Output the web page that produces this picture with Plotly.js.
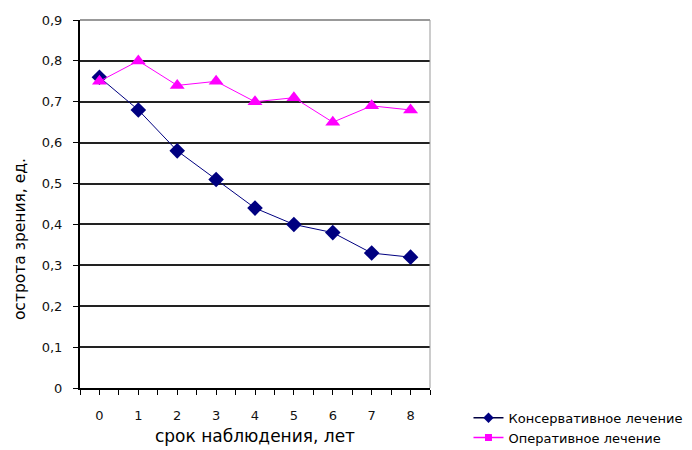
<!DOCTYPE html>
<html>
<head>
<meta charset="utf-8">
<script src="https://cdn.plot.ly/plotly-3.0.1.min.js"></script>
<style>html,body{margin:0;padding:0;background:#fff;}#chart{width:692px;height:450px;}</style>
</head>
<body>
<div id="chart"></div>
<script>
var years = [0, 1, 2, 3, 4, 5, 6, 7, 8];
var conservative = [0.76, 0.68, 0.58, 0.51, 0.44, 0.40, 0.38, 0.33, 0.32];
var operative = [0.75, 0.80, 0.74, 0.75, 0.70, 0.71, 0.65, 0.69, 0.68];
var yTickVals = [0, 0.1, 0.2, 0.3, 0.4, 0.5, 0.6, 0.7, 0.8, 0.9];
var yTickText = ['0', '0,1', '0,2', '0,3', '0,4', '0,5', '0,6', '0,7', '0,8', '0,9'];
var name1 = 'Консервативное лечение';
var name2 = 'Оперативное лечение';
var xTitle = 'срок наблюдения, лет';
var yTitle = 'острота зрения, ед.';

var font = 'DejaVu Sans, Verdana, sans-serif';

var traces = [
  {x: years, y: conservative, type: 'scatter', mode: 'lines+markers', name: name1,
   showlegend: false,
   line: {color: '#000080', width: 1}, marker: {symbol: 'diamond', size: 12, color: '#000080'}},
  {x: years, y: operative, type: 'scatter', mode: 'lines+markers', name: name2,
   showlegend: false,
   line: {color: '#FF00FF', width: 1}, marker: {symbol: 'triangle-up', size: 13, color: '#FF00FF'}},
  {x: [null], y: [null], type: 'scatter', mode: 'lines+markers', name: name1,
   line: {color: '#000040', width: 1.5}, marker: {symbol: 'diamond', size: 8, color: '#000080'}},
  {x: [null], y: [null], type: 'scatter', mode: 'lines+markers', name: name2,
   line: {color: '#FF00FF', width: 1.5}, marker: {symbol: 'square', size: 7, color: '#FF00FF'}}
];

var layout = {
  width: 692, height: 450,
  margin: {l: 80, r: 262, t: 20, b: 62},
  paper_bgcolor: '#ffffff', plot_bgcolor: '#ffffff',
  font: {family: font, size: 12, color: '#000'},
  showlegend: true,
  legend: {xref: 'container', yref: 'container', x: 0.677, y: 0.105, xanchor: 'left', yanchor: 'top',
           font: {family: font, size: 13, color: '#000'}, tracegroupgap: 0, itemwidth: 30,
           bgcolor: 'rgba(0,0,0,0)'},
  xaxis: {
    range: [-0.5, 8.5], tickvals: years, automargin: false,
    ticks: 'outside', ticklen: 5, tickcolor: '#000', tickwidth: 1,
    ticklabelstandoff: 9,
    minor: {tickmode: 'linear', tick0: -0.5, dtick: 1, ticks: 'outside', ticklen: 5, tickcolor: '#000', tickwidth: 1, showgrid: false},
    showline: true, linecolor: '#000', linewidth: 2,
    showgrid: false, zeroline: false,
    tickfont: {family: font, size: 13, color: '#111'},
    title: {text: xTitle, font: {family: font, size: 17, color: '#000'}, standoff: 9},
    fixedrange: true
  },
  yaxis: {
    range: [0, 0.9], tickvals: yTickVals, ticktext: yTickText, automargin: false,
    ticks: 'outside', ticklen: 5, tickcolor: '#000', tickwidth: 1,
    ticklabelstandoff: 8,
    showline: true, linecolor: '#000', linewidth: 2,
    showgrid: true, gridcolor: '#222', gridwidth: 2, zeroline: false,
    tickfont: {family: font, size: 13, color: '#111'},
    fixedrange: true
  },
  annotations: [
    {text: yTitle, xref: 'paper', yref: 'paper', x: -0.171, y: 0.405,
     xanchor: 'center', yanchor: 'middle', textangle: -90, showarrow: false,
     font: {family: font, size: 15.5, color: '#000'}}
  ],
  shapes: [
    {type: 'line', xref: 'paper', yref: 'paper', x0: 1, x1: 1, y0: 0, y1: 1,
     line: {color: '#999', width: 1}},
    {type: 'line', xref: 'paper', yref: 'paper', x0: 0, x1: 1, y0: 1, y1: 1,
     line: {color: '#999', width: 2}}
  ]
};

Plotly.newPlot('chart', traces, layout, {displayModeBar: false, staticPlot: true});
</script>
</body>
</html>
